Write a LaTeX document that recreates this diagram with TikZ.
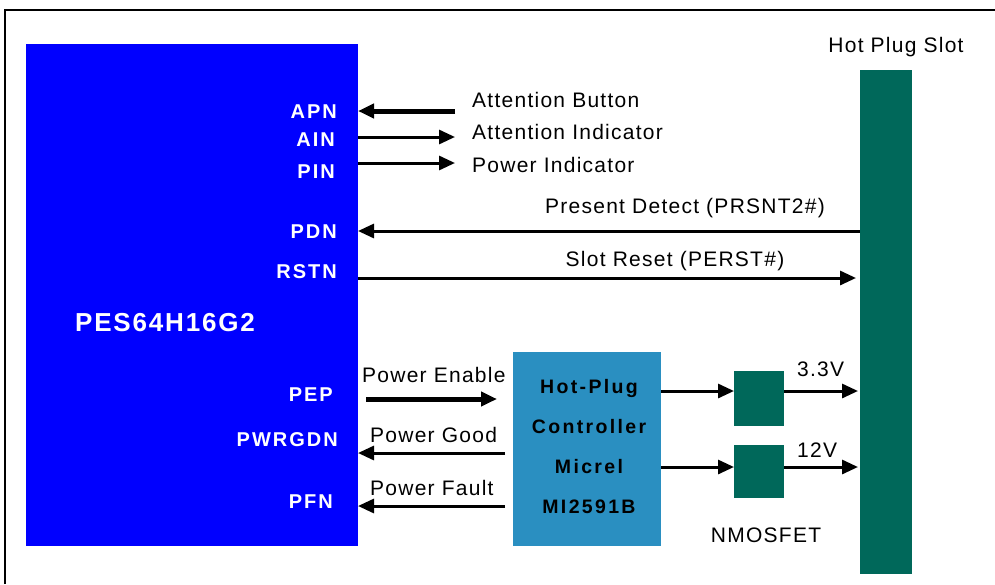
\documentclass[tikz,border=0pt]{standalone}
\usepackage{fontspec}
\setmainfont{Liberation Sans}[LetterSpace=6]
\usetikzlibrary{arrows.meta}
\usetikzlibrary{positioning}
\definecolor{pesblue}{RGB}{0,0,255}
\definecolor{hpcblue}{RGB}{42,143,193}
\definecolor{slotgreen}{RGB}{0,104,90}

\begin{document}
\begin{tikzpicture}[x=1pt, y=-1pt,
    sig/.style={line width=3pt, -{Triangle[length=16pt,width=14pt]}},
    bigsig/.style={sig, line width=5pt},
    blk/.style={inner sep=0pt, outer sep=0pt},
    pinlbl/.style={text=white, font=\fontsize{20}{22}\selectfont\bfseries\addfontfeature{LetterSpace=10}, anchor=east, inner sep=0pt},
    lbl/.style={font=\fontsize{21}{24}\selectfont, inner sep=0pt}]

    \useasboundingbox (0,0) rectangle (995,584);
    \draw[line width=2pt] (5,584) -- (5,10) -- (995,10);

    % blocks
    \node[blk, fill=pesblue, minimum width=332pt, minimum height=502pt] (pes) at (192,295) {};
    \node[blk, fill=slotgreen, minimum width=52pt, minimum height=504pt] (slot) at (886,322) {};
    \node[blk, fill=hpcblue, minimum width=148pt, minimum height=194pt] (hpc) at (587,449) {};
    \node[blk, fill=slotgreen, minimum width=50pt, minimum height=55pt] (mosA) at (759,398.5) {};
    \node[blk, fill=slotgreen, minimum width=50pt, minimum height=53pt] (mosB) at (759,471.5) {};

    \node[font=\fontsize{19.5}{40}\selectfont\bfseries\addfontfeature{LetterSpace=12}, align=center, inner sep=0pt] (hpctxt) at (589,447)
        {Hot-Plug\\Controller\\Micrel\\MI2591B};
    \node[text=white, font=\fontsize{26}{28}\selectfont\bfseries\addfontfeature{LetterSpace=7}, inner sep=0pt] (pesname) at (165,323) {PES64H16G2};

    % pin names
    \node[pinlbl] (apn) at (337,112) {APN};
    \node[pinlbl] (ain) at (335,140) {AIN};
    \node[pinlbl] (pin) at (335,172) {PIN};
    \node[pinlbl] (pdn) at (337,232) {PDN};
    \node[pinlbl] (rstn) at (337,272) {RSTN};
    \node[pinlbl] (pep) at (333,395) {PEP};
    \node[pinlbl] (pwrgdn) at (338,440) {PWRGDN};
    \node[pinlbl] (pfn) at (333,502) {PFN};

    % signal ends
    \coordinate (btn) at (455,111);
    \coordinate (ind) at (455,137);
    \coordinate (pwr) at (455,163);
    \coordinate (prsnt) at (0,231);
    \coordinate (perst) at (0,278);
    \coordinate (en) at (0,399);
    \coordinate (good) at (0,453);
    \coordinate (fault) at (0,506);
    \coordinate (vA) at (0,391);
    \coordinate (vB) at (0,467);

    \draw[bigsig] (btn) -- (btn -| pes.east);
    \draw[sig] (ind -| pes.east) -- (ind);
    \draw[sig] (pwr -| pes.east) -- (pwr);
    \draw[sig] (prsnt -| slot.west) -- (prsnt -| pes.east);
    \draw[sig, shorten >=4pt] (perst -| pes.east) -- (perst -| slot.west);
    \draw[bigsig, shorten <=8pt, shorten >=16pt] (en -| pes.east) -- (en -| hpc.west);
    \draw[sig, shorten <=8pt] (good -| hpc.west) -- (good -| pes.east);
    \draw[sig, shorten <=8pt] (fault -| hpc.west) -- (fault -| pes.east);
    \draw[sig] (vA -| hpc.east) -- (vA -| mosA.west);
    \draw[sig] (vB -| hpc.east) -- (vB -| mosB.west);
    \draw[sig, shorten >=2pt] (vA -| mosA.east) -- (vA -| slot.west);
    \draw[sig, shorten >=2pt] (vB -| mosB.east) -- (vB -| slot.west);

    % labels
    \node[lbl, anchor=west] (btnlbl) at (472,100) {Attention Button};
    \node[lbl, anchor=west] (indlbl) at (472,132) {Attention Indicator};
    \node[lbl, anchor=west] (pwrlbl) at (472,165) {Power Indicator};
    \node[lbl] (prsntlbl) at (685,208) {Present Detect (PRSNT2\#)};
    \node[lbl] (perstlbl) at (675,261) {Slot Reset (PERST\#)};
    \node[lbl, anchor=west] (enlbl) at (362,375) {Power Enable};
    \node[lbl, anchor=west] (goodlbl) at (370,435) {Power Good};
    \node[lbl, anchor=west] (faultlbl) at (370,488) {Power Fault};
    \node[lbl, anchor=west] (vAlbl) at (797,369) {3.3V};
    \node[lbl, anchor=west] (vBlbl) at (797,450) {12V};
    \node[lbl] (moslbl) at (766,535) {NMOSFET};
    \node[lbl] (slotlbl) at (896,47) {Hot Plug Slot};

\end{tikzpicture}
\end{document}
